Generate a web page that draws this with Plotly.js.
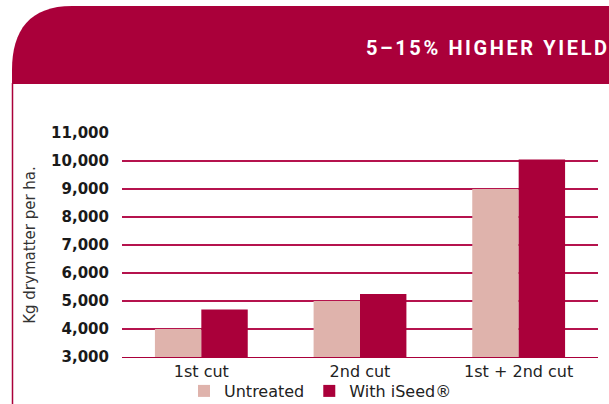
<!DOCTYPE html>
<html>
<head>
<meta charset="utf-8">
<script src="https://cdn.plot.ly/plotly-3.0.1.min.js"></script>
<style>html,body{margin:0;padding:0;background:#fff;}#chart{width:609px;height:404px;}</style>
</head>
<body>
<div id="chart"></div>
<script>
const categories = ["1st cut", "2nd cut", "1st + 2nd cut"];
const untreated = [4000, 5000, 9000];
const withISeed = [4700, 5250, 10050];
const seriesNames = ["Untreated", "With iSeed®"];
const yTickValues = [3000, 4000, 5000, 6000, 7000, 8000, 9000, 10000, 11000];
const yTickLabels = ["3,000", "4,000", "5,000", "6,000", "7,000", "8,000", "9,000", "10,000", "11,000"];
const headerText = "5–15% HIGHER YIELD";
const yTitle = "Kg drymatter per ha.";

const W = 609, H = 404;
const M = {l: 122, r: 11, t: 133, b: 47, autoexpand: false};
const pw = W - M.l - M.r, ph = H - M.t - M.b;
const px = x => (x - M.l) / pw;
const py = y => (H - M.b - y) / ph;

const crimson = "#AA003A";
const pink = "#DFB3AC";
const fam = "DejaVu Sans, sans-serif";

const pts = [
  ["M", 12, 84], ["L", 12, 70], ["C", 12, 30, 30, 6, 72, 6], ["L", 612, 6], ["L", 612, 84]
];
const headerPath = pts.map(p => {
  const c = [];
  for (let i = 1; i < p.length; i += 2) c.push(px(p[i]) + "," + py(p[i + 1]));
  return p[0] + " " + c.join(" ");
}).join(" ") + " Z";

const traces = [
  {type: "bar", name: seriesNames[0], x: categories, y: untreated,
   marker: {color: pink}, hoverinfo: "skip"},
  {type: "bar", name: seriesNames[1], x: categories, y: withISeed,
   marker: {color: crimson}, hoverinfo: "skip"}
];

const layout = {
  width: W, height: H,
  margin: M,
  paper_bgcolor: "#fff", plot_bgcolor: "#fff",
  barmode: "group", bargap: 0.415, bargroupgap: 0,
  showlegend: true,
  legend: {orientation: "h", x: px(184), xanchor: "left", y: py(391), yanchor: "middle",
           font: {family: fam, size: 16, color: "#222"},
           traceorder: "normal", bgcolor: "rgba(0,0,0,0)"},
  font: {family: fam, color: "#222"},
  xaxis: {type: "category", showgrid: false, showline: true, linecolor: crimson, linewidth: 1,
          ticks: "", tickfont: {size: 16, color: "#222", family: fam},
          fixedrange: true},
  yaxis: {range: [3000, 11000], tickvals: yTickValues, ticktext: yTickLabels,
          showgrid: true, gridcolor: "#B5134D", gridwidth: 1.2, zeroline: false, showline: false,
          ticks: "", ticklabelstandoff: 12,
          tickfont: {size: 15, color: "#1a1a1a", family: fam, weight: "bold"},
          title: {text: yTitle, standoff: 11, font: {size: 15, color: "#333", family: fam}},
          fixedrange: true},
  shapes: [
    {type: "path", xref: "paper", yref: "paper", path: headerPath,
     fillcolor: crimson, line: {width: 0}, layer: "below"},
    {type: "line", xref: "paper", yref: "paper", x0: px(12.5), x1: px(12.5), y0: py(83), y1: py(410),
     line: {color: crimson, width: 1.5}}
  ],
  annotations: [
    {xref: "paper", yref: "paper", x: px(366), y: py(48), xanchor: "left", yanchor: "middle",
     text: "<b>" + headerText + "</b>", showarrow: false,
     font: {family: "Roboto, sans-serif", size: 20, color: "#fff"}}
  ]
};

Plotly.newPlot("chart", traces, layout, {displayModeBar: false, staticPlot: true}).then(() => {
  const root = document.getElementById("chart").getBoundingClientRect();
  document.querySelectorAll(".annotation-text").forEach(t => {
    t.style.letterSpacing = "2.6px";
    const r = t.getBoundingClientRect();
    const dx = 366 - (r.left - root.left);
    t.setAttribute("transform", "translate(" + dx + ",0)");
  });
});
</script>
</body>
</html>
